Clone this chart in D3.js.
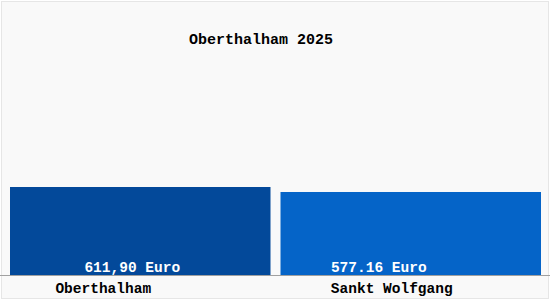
<!DOCTYPE html>
<html>
<head>
<meta charset="utf-8">
<script src="https://cdn.jsdelivr.net/npm/d3@7"></script>
<style>
  body { margin: 0; background: #fff; }
  text { font-family: "Liberation Mono", "Courier New", monospace; font-weight: bold; }
</style>
</head>
<body>
<svg width="550" height="300"></svg>
<script>
const title = 'Oberthalham 2025';
const categories = ['Oberthalham', 'Sankt Wolfgang'];
const values = [611.90, 577.16];
const valueLabels = ['611,90 Euro', '577.16 Euro'];
const colors = ['#03499a', '#0564c8'];

const width = 550;
const height = 300;
const baseY = 275;

let svg = d3.select('svg');

// background + light frame
svg.append('rect')
  .attr('x', 1.5).attr('y', 1.5)
  .attr('width', width - 3).attr('height', height - 3)
  .attr('fill', '#f9f9f9')
  .attr('stroke', '#e6e6e6');

let x = d3.scaleBand()
  .domain(categories)
  .range([10, 541])
  .paddingInner(0.037);

let y = d3.scaleLinear()
  .domain([0, 611.90])
  .range([baseY, 187]);

// label offsets from the band centre (the original doesn't centre them exactly)
const valueShift = [-8, -32];
const catShift = [-37, -19];

svg.selectAll('.bar')
  .data(values)
  .enter().append('rect')
  .attr('class', 'bar')
  .attr('x', (d, i) => x(categories[i]))
  .attr('y', d => y(d))
  .attr('width', x.bandwidth())
  .attr('height', d => baseY - y(d))
  .attr('fill', (d, i) => colors[i]);

svg.append('line')
  .attr('x1', 0).attr('x2', width)
  .attr('y1', baseY + 0.5).attr('y2', baseY + 0.5)
  .attr('stroke', '#a0a0a0');

svg.selectAll('.val')
  .data(valueLabels)
  .enter().append('text')
  .attr('class', 'val')
  .attr('x', (d, i) => x(categories[i]) + x.bandwidth() / 2 + valueShift[i])
  .attr('y', 272)
  .attr('text-anchor', 'middle')
  .attr('font-size', 14.5)
  .attr('fill', '#fff')
  .text(d => d);

svg.selectAll('.cat')
  .data(categories)
  .enter().append('text')
  .attr('class', 'cat')
  .attr('x', (d, i) => x(d) + x.bandwidth() / 2 + catShift[i])
  .attr('y', 293)
  .attr('text-anchor', 'middle')
  .attr('font-size', 14.5)
  .attr('fill', '#000')
  .text(d => d);

svg.append('text')
  .attr('x', 261)
  .attr('y', 44)
  .attr('text-anchor', 'middle')
  .attr('font-size', 15)
  .attr('fill', '#000')
  .text(title);
</script>
</body>
</html>
